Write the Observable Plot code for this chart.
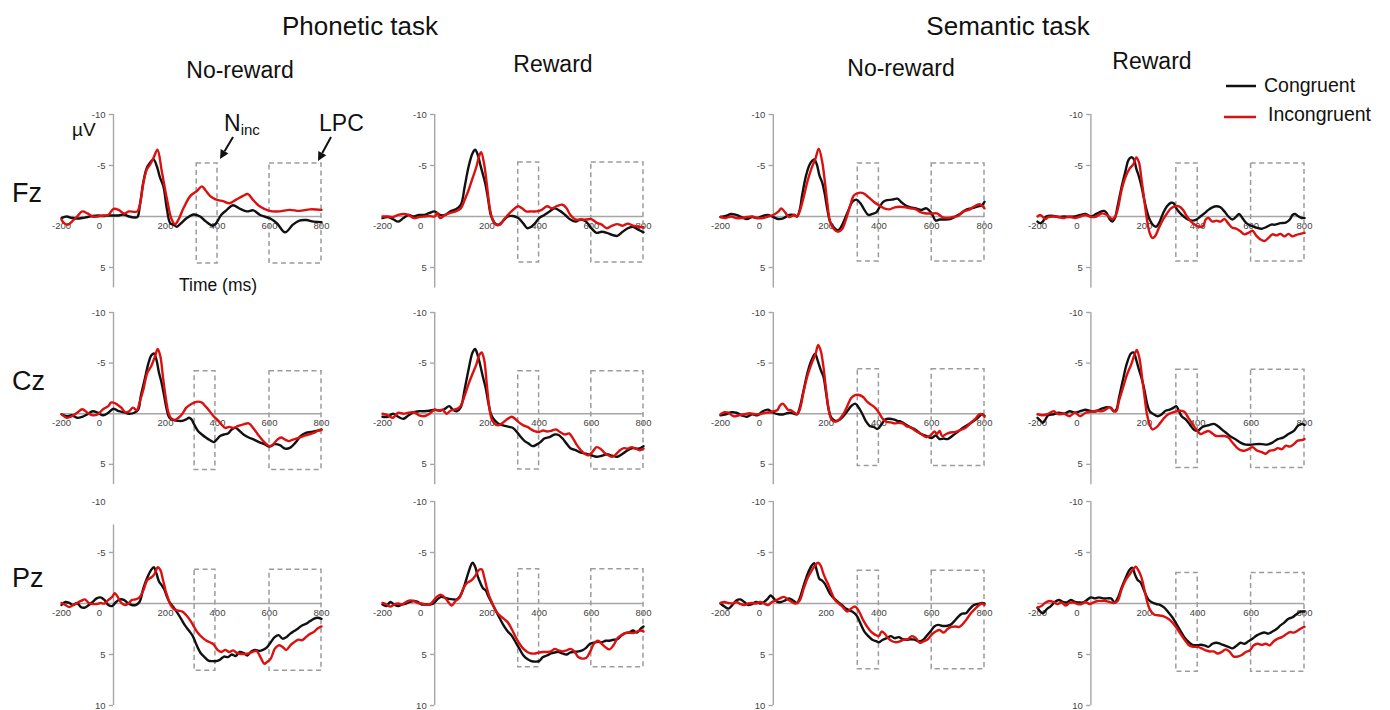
<!DOCTYPE html>
<html><head><meta charset="utf-8">
<script src="https://cdn.jsdelivr.net/npm/d3@7"></script>
<script src="https://cdn.jsdelivr.net/npm/@observablehq/plot@0.6"></script>
<style>
body{margin:0;background:#fff;}
#root{position:relative;width:1390px;height:710px;overflow:hidden;background:#fff;}
.panel{position:absolute;}
.panel svg{overflow:visible;background:transparent;}
#overlay{position:absolute;left:0;top:0;}
</style></head><body><div id="root"></div>
<script>
// ---------------- DATA (time ms, amplitude µV) ----------------
const timeTicks = [-200, 0, 200, 400, 600, 800];
const ampTicksTop = [-10, -5, 5];
const ampTicksBottom = [-10, -5, 5, 10];
const conditions = ["Congruent", "Incongruent"];
const tasks = ["Phonetic task", "Semantic task"];
const rewards = ["No-reward", "Reward", "No-reward", "Reward"];
const electrodes = ["Fz", "Cz", "Pz"];

const fzPhonNoRewCong = [[-200,.15],[-180,0],[-160,.15],[-140,.2],[-120,.15],[-100,.05],[-80,-.05],[-60,-.1],[-40,-.05],[-20,-.1],[0,-.1],[20,-.1],[40,-.2],[60,0],[80,.1],[92,.05],[102,-1.2],[115,-3.4],[128,-4.75],[141,-5.3],[154,-5.6],[167,-4.9],[179,-3.8],[192,-2.95],[205,-.8],[218,.65],[231,.8],[244,1.0],[256,.75],[282,.15],[308,-.2],[333,0],[356,.5],[382,.9],[395,.65],[414,-.15],[436,-.65],[459,-1.1],[487,-.75],[513,-.5],[538,-.6],[564,-.15],[603,.2],[628,.65],[660,1.55],[690,.8],[715,.4],[741,.35],[769,.5],[800,.55]];
const fzPhonNoRewInc = [[-200,.3],[-190,.65],[-175,.8],[-160,.5],[-140,0],[-120,-.5],[-100,-.3],[-80,0],[-60,0],[-40,-.1],[-20,-.15],[0,-.75],[20,-.65],[40,-.3],[60,-.5],[80,-.45],[92,-.5],[102,-1.2],[115,-3.3],[128,-4.6],[141,-5.1],[154,-5.75],[169,-6.55],[186,-4.4],[205,-1.8],[224,.3],[237,.75],[250,.3],[269,-.8],[295,-2.0],[321,-2.5],[340,-2.95],[353,-2.6],[372,-2.0],[395,-1.65],[421,-1.5],[446,-1.3],[472,-1.65],[497,-2.0],[517,-2.2],[536,-1.65],[562,-1.0],[600,-.55],[638,-.5],[677,-.65],[715,-.55],[756,-.7],[800,-.65]];

const fzPhonRewCong = [[-200,.15],[-180,.05],[-160,.25],[-140,.5],[-120,.15],[-100,-.15],[-80,0],[-60,-.15],[-40,-.15],[-20,-.35],[0,-.5],[20,-.15],[40,-.15],[60,-.5],[80,-.7],[100,-1.15],[115,-2.95],[130,-4.9],[145,-6.2],[155,-6.55],[165,-6.05],[175,-5.05],[185,-4.1],[195,-3.1],[205,-1.65],[215,-.15],[230,.65],[245,.8],[260,.5],[280,0],[300,-.05],[320,.15],[340,.7],[355,1.15],[370,1.0],[385,.65],[400,.15],[420,-.15],[440,-.5],[460,-.8],[480,-.55],[500,-.15],[520,.3],[540,.5],[560,.3],[580,.5],[600,1.15],[620,1.6],[640,1.5],[660,1.6],[680,1.8],[700,1.9],[720,1.5],[740,1.15],[760,1.0],[780,1.3],[800,1.55]];
const fzPhonRewInc = [[-200,0],[-180,0],[-160,.05],[-140,-.15],[-120,-.25],[-100,-.15],[-80,.15],[-60,.05],[-40,0],[-20,-.05],[0,0],[10,-.35],[20,.15],[40,-.15],[60,-.35],[80,-.5],[100,-.8],[115,-1.65],[130,-2.6],[145,-3.75],[160,-4.9],[170,-5.9],[178,-6.3],[190,-5.05],[200,-3.1],[210,-1.0],[220,.15],[235,.8],[250,.8],[265,.3],[280,-.15],[300,-.65],[320,-1.0],[335,-.8],[350,-.5],[370,-.5],[390,-.5],[410,-.65],[430,-1.0],[450,-.8],[470,-1.05],[490,-1.15],[505,-.8],[520,-.15],[540,.3],[560,.3],[580,.3],[600,.25],[620,.6],[640,.8],[660,1.15],[680,.9],[700,.75],[720,.9],[740,.7],[760,.9],[780,1.0],[800,1.05]];

const fzSemNoRewCong = [[-200,.05],[-180,-.05],[-160,-.25],[-140,-.15],[-120,.05],[-100,.25],[-80,.05],[-60,.15],[-40,-.05],[-20,-.15],[0,.05],[20,.25],[40,.15],[60,-.15],[80,-.15],[90,0],[100,-.65],[110,-2.2],[125,-4.1],[140,-5.2],[155,-5.6],[165,-5.1],[175,-4.0],[185,-3.35],[195,-2.2],[205,-.65],[215,.5],[230,1.1],[245,1.35],[255,1.1],[270,.3],[285,-.65],[300,-1.45],[315,-1.65],[330,-1.3],[345,-.65],[360,-.15],[375,-.25],[390,-.4],[400,-.8],[415,-1.4],[430,-1.6],[450,-1.65],[470,-1.75],[485,-1.4],[500,-1.1],[520,-.9],[540,-.8],[560,-.65],[580,-.8],[600,-.3],[615,.4],[630,.3],[650,.3],[670,.25],[690,0],[710,-.3],[730,-.65],[750,-.8],[770,-.95],[790,-1.1],[800,-1.45]];
const fzSemNoRewInc = [[-200,.05],[-180,.15],[-160,0],[-140,.15],[-120,.15],[-100,.05],[-80,0],[-60,.15],[-40,.15],[-20,0],[0,-.15],[20,-.5],[30,-.8],[45,-.4],[60,.05],[80,-.15],[90,0],[100,-.5],[115,-1.9],[130,-3.5],[145,-4.75],[160,-5.7],[172,-6.65],[185,-5.4],[195,-3.5],[205,-1.25],[215,.5],[230,1.25],[245,1.5],[260,1.25],[275,.3],[290,-.95],[305,-2.05],[320,-2.3],[340,-2.3],[360,-1.9],[380,-1.45],[400,-1.1],[420,-.8],[440,-.7],[460,-.9],[480,-.95],[500,-.9],[520,-.8],[540,-.7],[560,-.4],[580,-.3],[600,-.3],[620,-.3],[640,.05],[660,.15],[680,.05],[700,-.05],[720,-.5],[740,-.65],[760,-.95],[780,-1.2],[800,-.8]];

const fzSemRewCong = [[-200,.5],[-190,.65],[-180,.5],[-170,.05],[-160,-.05],[-140,-.05],[-120,.05],[-100,0],[-80,.05],[-60,0],[-40,-.15],[-20,-.25],[0,0],[20,-.25],[40,-.5],[50,-.55],[60,-.3],[70,.25],[80,.5],[90,.15],[100,-1.0],[115,-2.9],[130,-4.5],[140,-5.5],[150,-5.8],[160,-5.65],[170,-4.7],[180,-3.9],[190,-2.9],[200,-1.6],[210,-.5],[220,.3],[235,.9],[245,1.0],[255,.65],[270,-.3],[285,-1.0],[300,-1.35],[310,-1.3],[320,-.8],[335,-.3],[350,.05],[365,.3],[380,.4],[395,.3],[410,0],[425,-.3],[440,-.65],[455,-.9],[470,-1.0],[485,-.9],[500,-.5],[515,0],[530,.3],[545,0],[555,-.25],[570,.25],[585,.7],[600,.9],[620,1.1],[640,1.2],[660,1.0],[675,.8],[690,.8],[710,.65],[730,.6],[745,.3],[755,-.15],[765,-.25],[775,-.05],[790,.15],[800,.15]];
const fzSemRewInc = [[-200,0],[-190,-.15],[-180,.05],[-170,.25],[-160,.05],[-140,0],[-120,.05],[-100,.15],[-80,0],[-60,.15],[-40,0],[-20,-.15],[0,.05],[20,0],[40,-.3],[60,-.15],[80,.25],[90,.05],[100,-.65],[115,-2.6],[130,-3.9],[145,-4.7],[160,-5.15],[170,-5.8],[180,-5.3],[190,-3.55],[200,-1.6],[210,.3],[220,1.6],[230,2.1],[240,1.95],[255,1.1],[270,.3],[285,-.3],[300,-.8],[315,-1.0],[330,-1.0],[345,-.65],[360,0],[375,.5],[390,.8],[405,1.0],[420,.95],[430,.3],[440,.15],[455,.5],[470,.4],[485,.5],[500,.25],[515,.7],[530,1.1],[545,1.2],[560,1.45],[575,1.75],[590,1.6],[605,1.4],[620,1.9],[635,2.25],[650,2.4],[665,2.1],[680,1.75],[695,1.85],[710,1.7],[725,1.95],[740,1.7],[755,1.95],[770,1.8],[785,1.7],[800,1.6]];

const czPhonNoRewCong = [[-200,.05],[-180,.25],[-160,.15],[-140,.4],[-120,.3],[-100,.05],[-80,-.25],[-60,-.1],[-40,.15],[-20,-.1],[0,-.5],[20,-.25],[40,-.15],[60,0],[80,-.1],[95,-.4],[105,-1.75],[120,-3.4],[135,-5.05],[145,-5.75],[155,-5.95],[165,-5.35],[175,-4.05],[185,-3.05],[195,-1.75],[205,-.4],[215,.4],[230,.6],[250,.7],[265,.7],[280,.55],[290,.4],[300,.55],[310,1.05],[325,1.7],[340,2.05],[355,2.35],[370,2.6],[385,2.8],[395,2.6],[410,2.2],[425,2.05],[440,1.95],[455,1.55],[470,1.4],[485,1.7],[500,2.05],[520,2.35],[540,2.55],[560,2.8],[580,3.0],[600,3.25],[620,3.0],[640,3.1],[660,3.45],[680,3.35],[700,2.85],[720,2.2],[740,1.9],[760,1.8],[780,1.7],[800,1.55]];
const czPhonNoRewInc = [[-200,.05],[-180,.4],[-160,.25],[-140,-.1],[-120,-.45],[-100,-.1],[-80,.15],[-60,.05],[-40,-.45],[-20,-.75],[-10,-1.1],[0,-1.1],[15,-.9],[30,-.6],[45,-.15],[60,-.25],[75,-.6],[90,-.35],[100,-1.1],[115,-2.4],[130,-4.05],[145,-4.7],[160,-5.7],[170,-6.4],[180,-5.7],[190,-3.7],[200,-1.75],[210,-.25],[220,.4],[235,.6],[250,.4],[265,0],[280,-.6],[295,-.9],[310,-1.1],[325,-1.2],[340,-1.1],[355,-.7],[370,-.25],[385,.25],[400,.6],[415,1.05],[430,1.4],[445,1.3],[460,1.4],[480,1.2],[500,1.05],[520,.95],[540,1.5],[560,2.2],[580,2.8],[600,3.2],[615,3.0],[630,2.55],[645,2.35],[660,2.55],[675,2.7],[690,2.55],[710,2.4],[730,2.2],[750,2.05],[770,1.9],[785,1.7],[800,1.6]];

const czPhonRewCong = [[-200,.3],[-180,.3],[-160,0],[-140,.3],[-120,.5],[-100,.15],[-80,-.15],[-60,-.25],[-40,-.25],[-20,-.3],[0,-.4],[20,-.3],[40,-.5],[55,-.75],[70,-.4],[85,-.25],[100,-.65],[115,-2.45],[130,-4.4],[145,-6.05],[155,-6.4],[165,-5.75],[175,-4.75],[185,-3.6],[195,-2.6],[205,-1.15],[215,0],[225,.5],[240,.9],[255,1.1],[270,1.2],[285,1.3],[300,1.4],[315,1.8],[330,2.3],[345,2.7],[360,2.95],[375,3.2],[390,3.05],[405,2.8],[420,2.45],[440,2.3],[460,2.05],[475,2.1],[490,2.45],[505,2.95],[520,3.4],[540,3.6],[560,3.85],[580,3.95],[600,4.1],[620,4.25],[640,4.15],[660,4.0],[680,4.15],[700,4.25],[720,3.95],[740,3.6],[760,3.4],[780,3.45],[800,3.2]];
const czPhonRewInc = [[-200,0],[-180,.15],[-160,.4],[-140,-.1],[-120,0],[-100,-.1],[-80,-.15],[-60,.15],[-40,.25],[-20,0],[0,-.4],[15,-.3],[30,-.4],[45,0],[60,-.3],[75,-.4],[90,-.55],[100,-.8],[115,-1.8],[130,-2.95],[145,-3.95],[160,-4.9],[170,-5.75],[180,-6.05],[190,-5.25],[200,-2.8],[210,-.5],[220,.65],[235,1.1],[250,1.1],[265,.8],[280,.5],[295,.3],[310,.55],[325,.9],[340,1.15],[355,1.3],[370,1.55],[385,1.75],[400,1.8],[415,1.65],[430,1.75],[450,1.65],[465,1.55],[480,1.8],[500,2.05],[515,1.95],[530,2.45],[545,3.1],[560,3.6],[575,3.95],[590,4.1],[605,3.75],[620,3.3],[635,3.45],[650,3.85],[665,4.1],[680,4.25],[695,4.0],[710,3.6],[725,3.4],[740,3.45],[755,3.3],[770,3.45],[785,3.6],[800,3.45]];

const czSemNoRewCong = [[-200,.15],[-180,.05],[-160,-.15],[-140,-.1],[-120,.15],[-100,.3],[-80,.05],[-60,.15],[-40,-.25],[-20,-.4],[-10,-.25],[0,-.1],[20,.05],[40,.05],[60,-.1],[75,-.05],[90,.05],[100,-.6],[115,-2.35],[130,-4.1],[145,-5.3],[158,-5.9],[170,-5.1],[180,-4.3],[190,-3.65],[200,-2.05],[210,-.4],[220,.4],[235,.7],[250,.6],[265,.25],[280,-.25],[295,-.75],[310,-1.0],[320,-.75],[335,-.1],[350,.7],[365,1.2],[380,1.3],[395,1.5],[410,1.05],[425,.55],[440,.5],[455,.55],[470,.7],[485,.8],[500,1.05],[520,1.35],[540,1.6],[560,2.0],[580,2.2],[600,2.4],[615,2.15],[630,2.5],[645,2.45],[660,2.5],[680,2.15],[700,1.75],[720,1.35],[740,1.05],[760,.7],[775,.4],[790,.05],[800,.2]];
const czSemNoRewInc = [[-200,.05],[-185,-.15],[-170,-.1],[-150,.25],[-130,.15],[-110,.05],[-90,-.05],[-70,.05],[-50,.05],[-30,-.1],[-10,-.15],[0,-.25],[15,-.35],[25,-.8],[35,-1.0],[45,-.75],[55,-.4],[65,-.35],[80,-.1],[90,.05],[100,-.4],[115,-2.2],[130,-3.8],[145,-4.95],[160,-5.9],[170,-6.8],[180,-6.2],[190,-4.6],[200,-2.35],[210,-.4],[220,.55],[235,.8],[250,.55],[265,.05],[280,-.75],[295,-1.55],[310,-1.85],[325,-1.85],[340,-1.65],[355,-1.2],[370,-.9],[385,-.6],[400,-.1],[415,.5],[430,.8],[445,.85],[460,.95],[475,.9],[490,.95],[505,1.25],[520,1.35],[540,1.7],[560,2.0],[580,2.3],[595,2.15],[610,1.75],[620,2.0],[630,1.7],[640,2.2],[655,2.0],[670,1.85],[690,1.8],[710,1.6],[730,1.35],[750,.85],[765,.5],[780,.05],[790,.05],[800,.3]];

const czSemRewCong = [[-200,.4],[-190,.65],[-180,.9],[-170,.55],[-160,.15],[-140,.05],[-120,-.1],[-100,0],[-80,-.25],[-60,-.1],[-40,-.25],[-20,-.4],[0,-.25],[20,-.25],[40,-.5],[60,-.65],[75,-.6],[85,-.25],[95,-.4],[105,-1.55],[120,-3.35],[135,-5.0],[150,-5.95],[160,-6.05],[170,-5.3],[180,-4.35],[190,-3.5],[200,-2.4],[210,-1.05],[220,-.25],[235,.05],[250,.25],[265,.05],[280,-.3],[295,-.4],[310,-.6],[320,-.75],[330,-.25],[340,.25],[355,.55],[370,1.05],[385,1.55],[400,1.7],[415,1.35],[430,1.2],[445,1.1],[460,1.0],[475,1.2],[490,1.55],[505,1.85],[520,2.2],[540,2.5],[560,2.85],[580,3.05],[600,3.05],[620,3.0],[640,3.0],[660,3.05],[680,2.85],[700,2.5],[720,2.35],[740,2.0],[760,1.7],[775,1.2],[790,1.0],[800,1.1]];
const czSemRewInc = [[-200,.05],[-180,.15],[-160,0],[-140,-.25],[-130,-.1],[-120,.05],[-100,0],[-80,.25],[-60,-.1],[-40,.25],[-20,-.1],[0,-.2],[20,-.3],[40,-.25],[55,-.4],[70,-.65],[85,-.25],[95,-.25],[105,-1.25],[120,-2.55],[135,-3.85],[150,-4.8],[165,-5.95],[172,-6.3],[182,-5.45],[192,-3.5],[200,-1.9],[210,.05],[220,1.05],[230,1.55],[245,1.35],[260,.9],[275,.4],[290,.05],[305,-.1],[320,-.25],[335,-.3],[350,-.2],[365,.4],[380,1.0],[395,1.55],[410,2.0],[425,1.85],[440,1.7],[455,1.95],[470,2.2],[485,2.2],[500,2.2],[515,2.35],[530,2.85],[545,3.3],[560,3.6],[575,3.65],[590,3.5],[605,3.3],[620,3.6],[640,3.8],[655,3.95],[670,3.65],[685,3.6],[700,3.4],[715,3.5],[730,3.15],[745,3.25],[760,3.0],[775,2.65],[790,2.6],[800,2.5]];

const pzPhonNoRewCong = [[-200,.15],[-185,-.15],[-170,-.05],[-155,.15],[-140,-.05],[-125,.35],[-110,.4],[-95,.15],[-80,-.15],[-65,-.5],[-50,-.6],[-35,-.35],[-20,.15],[-5,.25],[10,-.15],[25,-.4],[40,-.35],[55,-.05],[70,.15],[85,.15],[100,-.15],[115,-1.5],[130,-2.55],[145,-3.3],[155,-3.55],[165,-2.95],[175,-2.15],[185,-1.8],[195,-1.4],[205,-.7],[215,-.15],[230,.35],[245,.9],[260,1.5],[275,2.15],[290,2.65],[305,3.2],[320,4.1],[335,4.85],[350,5.25],[365,5.6],[380,5.65],[395,5.65],[410,5.5],[425,5.2],[440,5.25],[455,5.0],[470,5.15],[485,4.75],[500,4.85],[515,5.1],[530,4.7],[545,4.55],[560,4.65],[575,4.55],[590,4.3],[605,3.8],[620,3.3],[635,3.1],[650,3.45],[665,3.3],[680,2.95],[695,2.7],[710,2.45],[725,2.15],[740,2.0],[755,1.75],[770,1.5],[785,1.4],[800,1.5]];
const pzPhonNoRewInc = [[-200,-.05],[-185,.15],[-170,.35],[-155,.15],[-140,-.05],[-125,-.25],[-110,-.4],[-95,-.05],[-80,.05],[-65,.05],[-50,-.05],[-35,0],[-20,-.35],[-5,-.65],[5,-1.0],[15,-.7],[30,-.05],[45,.15],[60,-.05],[70,-.35],[85,-.4],[100,-.6],[115,-1.3],[130,-2.3],[145,-2.55],[158,-2.9],[170,-3.55],[180,-3.3],[190,-2.35],[200,-1.3],[210,-.5],[220,.15],[235,.6],[250,.7],[265,.8],[280,1.15],[295,1.65],[310,2.3],[325,2.9],[340,3.3],[355,3.6],[370,3.8],[385,4.0],[400,4.55],[415,4.75],[430,4.55],[445,4.75],[460,4.6],[475,4.85],[490,4.95],[505,4.95],[520,4.9],[535,4.75],[550,4.65],[565,5.25],[580,5.9],[590,5.75],[605,5.4],[620,4.45],[635,4.1],[650,4.25],[665,4.55],[680,4.1],[695,3.8],[710,3.55],[725,3.6],[740,3.3],[755,3.0],[770,2.8],[785,2.45],[800,2.25]];

const pzPhonRewCong = [[-200,.1],[-185,.25],[-170,-.15],[-155,.1],[-140,.25],[-125,.1],[-110,0],[-95,-.15],[-80,-.25],[-65,-.15],[-50,.1],[-35,.1],[-20,.1],[-5,0],[10,-.4],[25,-.65],[40,-.55],[55,-.45],[70,-.4],[85,-.4],[100,-.85],[115,-1.85],[130,-3.1],[145,-4.0],[155,-3.6],[165,-2.65],[175,-2.0],[185,-1.5],[195,-1.3],[205,-.75],[220,0],[235,.75],[250,1.5],[265,2.2],[280,2.75],[295,3.15],[310,3.8],[325,4.45],[340,5.1],[355,5.45],[370,5.65],[385,5.7],[400,5.65],[415,5.25],[430,5.1],[445,4.9],[460,4.8],[475,4.75],[490,4.9],[505,5.0],[520,4.8],[535,4.75],[550,4.7],[565,4.6],[580,4.35],[595,3.95],[610,3.85],[625,3.75],[640,3.8],[655,3.65],[670,3.65],[685,3.55],[700,3.5],[715,3.15],[730,2.9],[745,2.85],[760,2.65],[775,2.85],[790,2.45],[800,2.25]];
const pzPhonRewInc = [[-200,-.05],[-185,.1],[-170,.3],[-155,.1],[-140,0],[-125,.1],[-110,-.15],[-95,-.3],[-80,-.25],[-65,-.05],[-50,0],[-35,.1],[-20,.1],[-5,-.25],[10,-.7],[25,-.85],[40,-.55],[55,-.05],[65,.2],[80,-.25],[95,-.55],[110,-1.5],[125,-2.05],[140,-2.25],[155,-2.7],[170,-3.3],[180,-3.35],[190,-2.55],[200,-1.5],[210,-.65],[220,-.05],[235,.75],[250,1.2],[265,1.5],[280,1.85],[295,2.5],[310,3.3],[325,3.95],[340,4.45],[355,4.75],[370,4.9],[385,4.9],[400,4.8],[415,4.75],[430,4.75],[445,4.7],[460,4.45],[475,4.6],[490,4.7],[505,4.6],[520,4.45],[535,4.7],[550,5.25],[565,5.4],[580,5.35],[595,4.75],[610,3.95],[625,3.65],[640,3.95],[655,4.3],[670,4.5],[685,4.1],[700,3.4],[715,3.1],[730,2.9],[745,2.85],[760,2.9],[775,2.75],[790,2.65],[800,2.75]];

const pzSemNoRewCong = [[-200,0],[-185,.3],[-170,.5],[-155,.15],[-140,-.3],[-125,-.4],[-110,-.15],[-95,.15],[-80,.05],[-65,-.15],[-50,0],[-35,-.15],[-20,-.5],[-10,-.8],[0,-.55],[15,-.15],[30,-.15],[45,-.3],[60,-.5],[75,-.3],[90,-.05],[100,-.5],[115,-1.75],[130,-2.9],[145,-3.7],[155,-3.95],[165,-3.2],[175,-2.4],[185,-2.25],[195,-1.95],[205,-1.45],[215,-.95],[230,-.5],[245,-.15],[260,.15],[275,.5],[290,.7],[300,.8],[315,1.15],[330,1.95],[345,2.75],[360,3.2],[375,3.55],[390,3.7],[400,3.8],[415,3.55],[430,3.4],[445,3.2],[460,3.4],[475,3.3],[490,3.5],[505,3.55],[520,3.5],[535,3.55],[550,3.7],[565,3.6],[580,3.2],[595,2.75],[610,2.25],[625,2.1],[640,2.2],[655,2.2],[670,2.1],[685,1.75],[700,1.3],[715,1.0],[730,.95],[745,.5],[760,.15],[775,.05],[790,-.05],[800,0]];
const pzSemNoRewInc = [[-200,-.05],[-185,-.15],[-170,-.05],[-155,0],[-140,-.15],[-125,.05],[-110,.15],[-95,0],[-80,-.05],[-65,0],[-50,-.15],[-35,0],[-20,.15],[-5,-.15],[10,-.3],[25,-.5],[40,-.65],[55,-.4],[70,-.15],[85,0],[100,-.3],[115,-1.45],[130,-2.5],[145,-3.2],[160,-3.8],[170,-4.0],[180,-3.7],[190,-2.9],[200,-2.3],[210,-1.75],[220,-1.1],[235,-.3],[250,.05],[265,.4],[280,.8],[295,.5],[310,.3],[325,.8],[340,1.6],[355,2.25],[370,2.75],[385,3.05],[400,3.2],[410,2.75],[420,2.9],[435,3.4],[450,3.7],[465,3.8],[480,3.7],[495,3.55],[510,3.5],[525,3.2],[540,3.4],[555,3.85],[570,3.7],[585,3.5],[600,3.05],[615,2.75],[630,2.6],[645,2.85],[660,2.5],[675,2.3],[690,2.25],[705,2.3],[720,1.95],[735,1.45],[750,.9],[765,.5],[780,.15],[790,0],[800,.15]];

const pzSemRewCong = [[-200,.4],[-190,.8],[-180,.95],[-165,.55],[-150,.25],[-135,-.15],[-120,-.35],[-105,-.15],[-90,-.1],[-75,-.35],[-60,-.15],[-45,-.1],[-30,-.1],[-15,-.35],[0,-.6],[15,-.5],[30,-.6],[45,-.5],[60,-.5],[75,-.5],[90,-.1],[100,-.5],[115,-1.55],[130,-2.5],[145,-3.3],[155,-3.5],[165,-2.85],[175,-2.3],[185,-2.1],[195,-1.55],[205,-.9],[215,-.4],[230,-.1],[245,.05],[260,.15],[275,.4],[290,.85],[305,1.35],[320,2.0],[335,2.65],[350,3.3],[365,3.75],[380,4.05],[395,4.1],[410,4.05],[425,4.1],[440,4.25],[455,3.95],[470,3.85],[485,3.95],[500,4.1],[515,4.25],[530,4.4],[545,4.15],[560,3.85],[575,3.95],[590,3.7],[605,3.45],[620,3.15],[635,2.95],[650,2.85],[665,2.95],[680,2.75],[695,2.5],[710,2.15],[725,1.85],[740,1.5],[755,1.35],[770,1.05],[785,.8],[800,.8]];
const pzSemRewInc = [[-200,.4],[-185,.25],[-170,-.1],[-155,-.25],[-140,-.15],[-125,.05],[-110,-.1],[-95,.2],[-80,-.05],[-65,-.1],[-50,.05],[-35,.05],[-20,-.15],[-5,.05],[10,-.1],[25,-.25],[40,-.25],[55,-.25],[70,-.15],[85,-.05],[100,-.25],[115,-1.4],[130,-2.3],[145,-2.85],[160,-3.4],[168,-3.6],[178,-3.25],[190,-2.5],[200,-1.4],[210,-.25],[220,.55],[235,1.05],[250,1.15],[265,1.2],[280,1.35],[295,1.6],[310,2.0],[325,2.55],[340,3.15],[355,3.7],[370,4.15],[385,4.25],[400,4.25],[415,4.4],[430,4.6],[445,4.7],[460,4.7],[475,4.9],[490,4.75],[505,4.5],[520,4.75],[535,5.2],[550,5.2],[565,5.05],[580,4.75],[595,4.6],[610,4.1],[625,3.95],[640,4.05],[655,3.95],[670,4.1],[685,3.7],[700,3.45],[715,3.3],[730,3.05],[745,2.8],[760,2.85],[775,2.65],[790,2.4],[800,2.3]];

// analysis windows (ms) and the vertical extent (µV) of each panel's dashed boxes
const nincWindowStart = [320, 320, 320, 320, 312, 320, 320, 320, 312, 320, 320, 320];
const nincWindowEnd   = [400, 400, 400, 400, 392, 400, 400, 400, 392, 400, 400, 400];
const lpcWindow = [600, 800];
const boxTop    = [-5.2, -5.3, -5.2, -5.2, -4.2, -4.2, -4.4, -4.35, -3.3, -3.35, -3.2, -3.0];
const boxBottom = [4.6, 4.5, 4.4, 4.4, 5.55, 5.5, 5.15, 5.35, 6.6, 6.25, 6.45, 6.7];

const congruentSeries = [fzPhonNoRewCong, fzPhonRewCong, fzSemNoRewCong, fzSemRewCong,
  czPhonNoRewCong, czPhonRewCong, czSemNoRewCong, czSemRewCong,
  pzPhonNoRewCong, pzPhonRewCong, pzSemNoRewCong, pzSemRewCong];
const incongruentSeries = [fzPhonNoRewInc, fzPhonRewInc, fzSemNoRewInc, fzSemRewInc,
  czPhonNoRewInc, czPhonRewInc, czSemNoRewInc, czSemRewInc,
  pzPhonNoRewInc, pzPhonRewInc, pzSemNoRewInc, pzSemRewInc];

// ---------------- LAYOUT ----------------
const colPx = [[61, 321], [382, 643], [720, 984], [1037, 1304]]; // pixel of -200 ms and 800 ms
const rowPx = [[114, 318], [311.5, 514], [501, 705]];             // pixel of -10 µV and +10 µV
const BLACK = "#111111", RED = "#dd1010", AXIS = "#a6a6a6", BOX = "#9c9c9c", TICKTXT = "#444";
const FONT = "'Liberation Sans', Arial, Helvetica, sans-serif";

const root = document.getElementById("root");

for (let i = 0; i < 12; i++) {
  const r = Math.floor(i / 4), c = i % 4;
  const [x0, x1] = colPx[c], [y0, y1] = rowPx[r];
  const mL = 45, mR = 25, mT = 12, mB = 12;
  const W = x1 - x0 + mL + mR, H = y1 - y0 + mT + mB;
  const yEnd = r === 2 ? 10 : 7;
  const yStart = (r === 2 && c === 0) ? -7.7 : -10;
  const yLabels = r === 2 ? ampTicksBottom : ampTicksTop;
  const yTickMarks = yLabels.filter(v => v >= yStart);
  const boxes = [
    {x1: nincWindowStart[i], x2: nincWindowEnd[i], y1: boxTop[i], y2: boxBottom[i]},
    {x1: lpcWindow[0], x2: lpcWindow[1], y1: boxTop[i], y2: boxBottom[i]}
  ];
  const chart = Plot.plot({
    width: W, height: H,
    marginLeft: mL, marginRight: mR, marginTop: mT, marginBottom: mB,
    style: {background: "transparent", overflow: "visible", fontFamily: FONT},
    x: {domain: [-200, 800], axis: null},
    y: {domain: [-10, 10], reverse: true, axis: null},
    marks: [
      Plot.ruleY([0], {x1: -200, x2: 800, stroke: AXIS, strokeWidth: 1.4}),
      Plot.ruleX([0], {y1: yStart, y2: yEnd, stroke: AXIS, strokeWidth: 1.4}),
      Plot.ruleY(yTickMarks, {x1: -16, x2: 0, stroke: AXIS, strokeWidth: 1.4}),
      Plot.text(yLabels, {x: 0, y: d => d, text: d => String(d), textAnchor: "end", dx: -8, fontSize: 9.5, fill: TICKTXT}),
      Plot.text(timeTicks.filter(d => d !== 0), {x: d => d, y: 0, text: d => String(d), dy: 9, fontSize: 9.5, fill: TICKTXT}),
      Plot.text(timeTicks.filter(d => d === 0), {x: d => d, y: 0, text: d => String(d), dx: -14, dy: 9, fontSize: 9.5, fill: TICKTXT}),
      Plot.rect(boxes, {x1: "x1", x2: "x2", y1: "y1", y2: "y2", fill: "none", stroke: BOX, strokeWidth: 1.5, strokeDasharray: "5,3.5"}),
      Plot.line(congruentSeries[i], {x: d => d[0], y: d => d[1], stroke: BLACK, strokeWidth: 2.4, curve: "catmull-rom"}),
      Plot.line(incongruentSeries[i], {x: d => d[0], y: d => d[1], stroke: RED, strokeWidth: 2.4, curve: "catmull-rom"})
    ]
  });
  const div = document.createElement("div");
  div.className = "panel";
  div.style.left = (x0 - mL) + "px";
  div.style.top = (y0 - mT) + "px";
  div.style.width = W + "px";
  div.style.height = H + "px";
  div.appendChild(chart);
  root.appendChild(div);
}

// ---------------- TITLES, LABELS, ANNOTATIONS, LEGEND ----------------
const ns = "http://www.w3.org/2000/svg";
const ov = document.createElementNS(ns, "svg");
ov.setAttribute("id", "overlay");
ov.setAttribute("width", 1390); ov.setAttribute("height", 710);
ov.setAttribute("font-family", FONT);
root.appendChild(ov);
function txt(s, x, y, size, anchor = "middle", fill = "#111") {
  const t = document.createElementNS(ns, "text");
  t.setAttribute("x", x); t.setAttribute("y", y);
  t.setAttribute("font-size", size); t.setAttribute("text-anchor", anchor);
  t.setAttribute("fill", fill);
  t.textContent = s; ov.appendChild(t); return t;
}
function ln(xa, ya, xb, yb, stroke, w) {
  const l = document.createElementNS(ns, "line");
  l.setAttribute("x1", xa); l.setAttribute("y1", ya); l.setAttribute("x2", xb); l.setAttribute("y2", yb);
  l.setAttribute("stroke", stroke); l.setAttribute("stroke-width", w);
  ov.appendChild(l); return l;
}
function arrow(xa, ya, xb, yb) {
  const ang = Math.atan2(yb - ya, xb - xa), L = 9, Wd = 4.5;
  const bx = xb - L * Math.cos(ang), by = yb - L * Math.sin(ang);
  ln(xa, ya, bx, by, "#111", 2);
  const p = document.createElementNS(ns, "polygon");
  const px = -Math.sin(ang), py = Math.cos(ang);
  p.setAttribute("points", `${xb},${yb} ${bx + px * Wd},${by + py * Wd} ${bx - px * Wd},${by - py * Wd}`);
  p.setAttribute("fill", "#111"); ov.appendChild(p);
}
txt(tasks[0], 360, 35, 26);
txt(tasks[1], 1008, 35, 26);
txt(rewards[0], 240, 78, 23);
txt(rewards[1], 553, 72, 23);
txt(rewards[2], 901, 76, 23);
txt(rewards[3], 1152, 69, 23);
txt(electrodes[0], 12, 202, 27, "start");
txt(electrodes[1], 12, 390, 27, "start");
txt(electrodes[2], 12, 587, 27, "start");
txt("\u00b5V", 72, 136, 19, "start");
const nt = txt("N", 224, 131, 23, "start");
const sub = document.createElementNS(ns, "tspan");
sub.setAttribute("font-size", 15); sub.setAttribute("dy", 4); sub.textContent = "inc";
nt.appendChild(sub);
txt("LPC", 319, 131, 23, "start");
arrow(233, 137, 220, 159);
arrow(331, 137, 318, 161);
txt("Time (ms)", 218, 291, 17.5);
ln(1226, 86, 1256, 86, BLACK, 2.5);
txt(conditions[0], 1264, 92, 19.5, "start");
ln(1224, 117, 1256, 117, RED, 2.5);
txt(conditions[1], 1268, 121, 19.5, "start");
</script></body></html>
